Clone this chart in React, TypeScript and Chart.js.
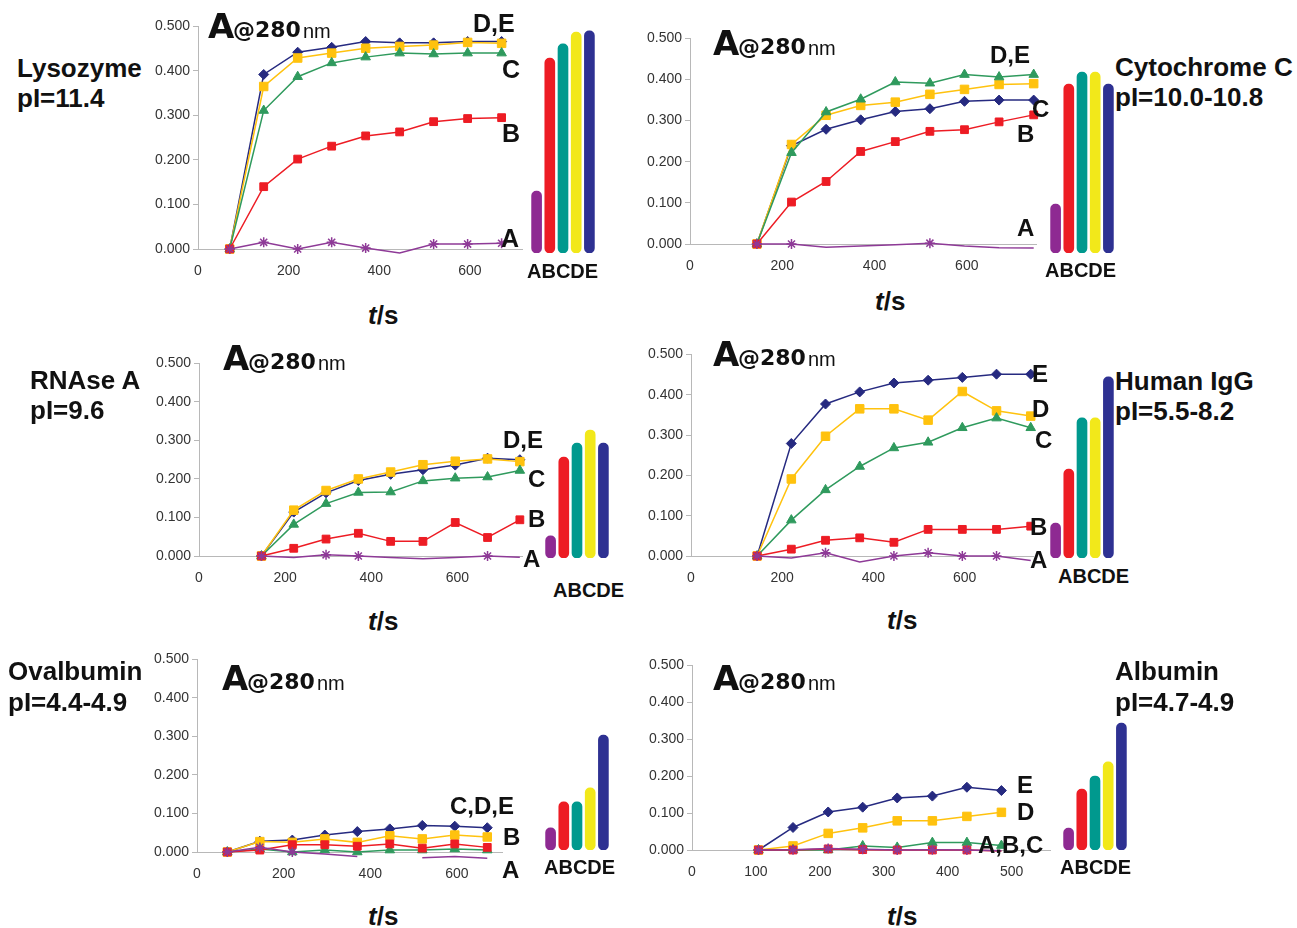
import React, { useEffect, useRef } from "react";
import { Chart, registerables } from "chart.js";

Chart.register(...registerables);

const FONT = "'Liberation Sans', Arial, Helvetica, sans-serif";
const FONT_WIDE = "'DejaVu Sans', Verdana, sans-serif";

// ---------- DATA ----------
// sampling times (s)
const timeEarly = [70, 145, 220, 295, 370, 445, 520, 595, 670];
const timeLate = [145, 220, 295, 370, 445, 520, 595, 670, 745];
const timeAlbumin = [104, 158, 213, 267, 321, 376, 430, 484];

// Lysozyme, pI = 11.4 (absorbance at 280 nm)
const lysoA = [0, 0.015, 0, 0.015, 0.002, -0.009, 0.011, 0.011, 0.013];
const lysoB = [0, 0.14, 0.202, 0.231, 0.254, 0.263, 0.286, 0.293, 0.295];
const lysoC = [0, 0.311, 0.387, 0.418, 0.431, 0.44, 0.438, 0.44, 0.44];
const lysoD = [0, 0.365, 0.429, 0.44, 0.451, 0.455, 0.458, 0.464, 0.462];
const lysoE = [0, 0.392, 0.442, 0.453, 0.466, 0.463, 0.463, 0.466, 0.466];
const lysoBars = [0.138, 0.435, 0.467, 0.493, 0.496];

// Cytochrome C, pI = 10.0-10.8
const cytoA = [0, 0, -0.008, -0.005, -0.002, 0.002, -0.005, -0.009, -0.01];
const cytoB = [0, 0.102, 0.152, 0.225, 0.249, 0.274, 0.278, 0.297, 0.314];
const cytoC = [0, 0.222, 0.321, 0.352, 0.394, 0.391, 0.412, 0.406, 0.412];
const cytoD = [0, 0.242, 0.313, 0.337, 0.345, 0.364, 0.376, 0.388, 0.39];
const cytoE = [0, 0.239, 0.279, 0.302, 0.322, 0.329, 0.347, 0.35, 0.35];
const cytoBars = [0.118, 0.408, 0.437, 0.437, 0.408];

// RNAse A, pI = 9.6
const rnaseA = [0, -0.004, 0.003, 0, -0.004, -0.007, -0.004, 0, -0.003];
const rnaseB = [0, 0.02, 0.044, 0.059, 0.038, 0.038, 0.087, 0.048, 0.094];
const rnaseC = [0, 0.082, 0.136, 0.165, 0.166, 0.195, 0.202, 0.205, 0.222];
const rnaseD = [0, 0.119, 0.17, 0.2, 0.218, 0.237, 0.246, 0.252, 0.245];
const rnaseE = [0, 0.114, 0.164, 0.196, 0.212, 0.224, 0.236, 0.254, 0.25];
const rnaseBars = [0.057, 0.26, 0.296, 0.33, 0.296];

// Human IgG, pI = 5.5-8.2
const iggA = [0, -0.005, 0.008, -0.015, 0, 0.008, 0, 0, -0.011];
const iggB = [0, 0.017, 0.039, 0.045, 0.034, 0.066, 0.066, 0.066, 0.074];
const iggC = [0, 0.089, 0.164, 0.222, 0.268, 0.282, 0.318, 0.342, 0.318];
const iggD = [0, 0.191, 0.297, 0.365, 0.365, 0.337, 0.408, 0.36, 0.347];
const iggE = [0, 0.279, 0.377, 0.407, 0.429, 0.436, 0.443, 0.451, 0.451];
const iggBars = [0.086, 0.219, 0.345, 0.345, 0.446];

// Ovalbumin, pI = 4.4-4.9
const ovalA = [0, 0.012, 0, -0.005, -0.012, null, -0.015, -0.012, -0.016];
const ovalB = [0, 0.005, 0.019, 0.019, 0.015, 0.021, 0.01, 0.021, 0.012];
const ovalC = [0, 0.008, 0, 0.005, 0, 0.005, 0.005, 0.008, 0.005];
const ovalD = [0, 0.027, 0.025, 0.034, 0.025, 0.042, 0.034, 0.044, 0.039];
const ovalE = [0, 0.028, 0.031, 0.044, 0.053, 0.06, 0.069, 0.067, 0.063];
const ovalBars = [0.057, 0.124, 0.124, 0.16, 0.296];

// Albumin, pI = 4.7-4.9
const albA = [0, 0.001, 0.004, 0.002, 0, 0.001, 0, -0.002];
const albB = [0, 0, 0.003, 0.001, 0, 0, 0, -0.003];
const albC = [0, 0, 0, 0.011, 0.007, 0.02, 0.02, 0.012];
const albD = [0, 0.011, 0.045, 0.06, 0.079, 0.079, 0.091, 0.102];
const albE = [0, 0.061, 0.103, 0.116, 0.141, 0.146, 0.17, 0.161];
const albBars = [0.059, 0.164, 0.199, 0.237, 0.341];

const seriesNames = ["A", "B", "C", "D", "E"];
const yTicks = { min: 0, max: 0.5, step: 0.1 };

// ---------- STYLES ----------
const SERIES_STYLE = [
  { color: "#8e3a97", point: "star", r: 5, bw: 1.5 },
  { color: "#ed1c24", point: "rect", r: 5.5, bw: 1 },
  { color: "#2f9a5d", point: "triangle", r: 5.5, bw: 1 },
  { color: "#ffc20e", point: "rect", r: 6, bw: 1 },
  { color: "#262a80", point: "rectRot", r: 5, bw: 1 },
];
const BAR_COLORS = ["#8e2a92", "#ed1c24", "#00998e", "#f2e81a", "#2e3192"];

const YW = 55;
const XH = 40;
const PADT = 10;
const PADR = 12;

type Geom = { left: number; top: number; w: number; h: number; xMax: number; xStep: number };

function LinePanel({ times, series, g }: { times: number[]; series: (number | null)[][]; g: Geom }) {
  const ref = useRef<HTMLCanvasElement>(null);
  useEffect(() => {
    const chart = new Chart(ref.current as HTMLCanvasElement, {
      type: "line",
      data: {
        datasets: series.map((vals, i) => ({
          label: seriesNames[i],
          data: times.map((t, k) => ({ x: t, y: vals[k] })),
          borderColor: SERIES_STYLE[i].color,
          backgroundColor: SERIES_STYLE[i].color,
          borderWidth: 1.5,
          pointStyle: SERIES_STYLE[i].point as any,
          pointRadius: (c: any) => (c.raw && c.raw.y !== null && c.raw.y < 0 ? 0 : SERIES_STYLE[i].r),
          pointBorderColor: SERIES_STYLE[i].color,
          pointBackgroundColor: SERIES_STYLE[i].color,
          pointBorderWidth: SERIES_STYLE[i].bw,
          tension: 0,
          clip: false as any,
          spanGaps: false,
        })),
      },
      options: {
        animation: false,
        responsive: false,
        events: [],
        layout: { padding: { top: PADT, right: PADR, left: 0, bottom: 0 } },
        plugins: { legend: { display: false }, tooltip: { enabled: false } },
        scales: {
          x: {
            type: "linear",
            min: 0,
            max: g.xMax,
            ticks: {
              stepSize: g.xStep,
              includeBounds: false,
              padding: 14,
              color: "#333",
              maxRotation: 0,
              autoSkip: false,
              font: { family: FONT, size: 14 },
            },
            grid: { display: false, drawTicks: false },
            border: { display: true, color: "#b8b8b8", width: 1 },
            afterFit: (s: any) => {
              s.height = XH;
            },
          },
          y: {
            min: yTicks.min,
            max: yTicks.max,
            ticks: {
              stepSize: yTicks.step,
              padding: 3,
              color: "#333",
              font: { family: FONT, size: 14 },
              callback: (v: any) => Number(v).toFixed(3),
            },
            grid: { display: true, drawOnChartArea: false, tickLength: 5, color: "#b8b8b8" },
            border: { display: true, color: "#b8b8b8", width: 1 },
            afterFit: (s: any) => {
              s.width = YW;
            },
          },
        },
      },
    } as any);
    return () => chart.destroy();
  }, []);
  const cw = Math.round(g.w) + YW + PADR;
  const ch = g.h + PADT + XH;
  return (
    <canvas
      ref={ref}
      width={cw}
      height={ch}
      style={{ position: "absolute", left: g.left - YW, top: g.top - PADT, width: cw, height: ch }}
    />
  );
}

const PITCH = 13.2;
function BarPanel({ values, firstCenter, bottom, h }: { values: number[]; firstCenter: number; bottom: number; h: number }) {
  const ref = useRef<HTMLCanvasElement>(null);
  useEffect(() => {
    const chart = new Chart(ref.current as HTMLCanvasElement, {
      type: "bar",
      data: {
        labels: seriesNames,
        datasets: [
          {
            data: values,
            backgroundColor: BAR_COLORS,
            barThickness: 10,
            borderRadius: 5,
            borderSkipped: false,
          },
        ],
      },
      options: {
        animation: false,
        responsive: false,
        events: [],
        layout: { padding: 0 },
        plugins: { legend: { display: false }, tooltip: { enabled: false } },
        scales: {
          x: { display: false },
          y: { display: false, min: 0, max: 0.5 },
        },
      },
    } as any);
    return () => chart.destroy();
  }, []);
  const w = Math.round(PITCH * 5);
  return (
    <canvas
      ref={ref}
      width={w}
      height={h}
      style={{ position: "absolute", left: Math.round(firstCenter - PITCH / 2), top: bottom - h, width: w, height: h }}
    />
  );
}

function Txt({
  x,
  y,
  size,
  children,
  weight = 700,
  family = FONT,
  color = "#111",
}: {
  x: number;
  y: number;
  size: number;
  children: any;
  weight?: number;
  family?: string;
  color?: string;
}) {
  return (
    <div
      style={{
        position: "absolute",
        left: x,
        top: y - 0.846 * size,
        fontSize: size,
        lineHeight: `${size}px`,
        fontFamily: family,
        fontWeight: weight,
        color,
        whiteSpace: "nowrap",
      }}
    >
      {children}
    </div>
  );
}

function A280({ x, y }: { x: number; y: number }) {
  return (
    <>
      <Txt x={x} y={y} size={34} family={FONT_WIDE}>
        A
      </Txt>
      <Txt x={x + 25} y={y} size={22} family={FONT_WIDE}>
        @280
      </Txt>
      <Txt x={x + 95} y={y} size={20} weight={400}>
        nm
      </Txt>
    </>
  );
}

function TS({ x, y }: { x: number; y: number }) {
  return (
    <Txt x={x} y={y} size={26}>
      <i>t</i>/s
    </Txt>
  );
}

export default function App() {
  return (
    <div
      style={{
        position: "fixed",
        left: 0,
        top: 0,
        width: 1297,
        height: 928,
        overflow: "hidden",
        background: "#fff",
      }}
    >
      {/* Lysozyme */}
      <LinePanel times={timeEarly} series={[lysoA, lysoB, lysoC, lysoD, lysoE]} g={{ left: 198, top: 25, w: 324, h: 224, xMax: 715, xStep: 200 }} />
      <BarPanel values={lysoBars} firstCenter={537} bottom={253} h={224} />
      {/* Cytochrome C */}
      <LinePanel times={timeLate} series={[cytoA, cytoB, cytoC, cytoD, cytoE]} g={{ left: 690, top: 37, w: 346, h: 207, xMax: 750, xStep: 200 }} />
      <BarPanel values={cytoBars} firstCenter={1056} bottom={253} h={207} />
      {/* RNAse A */}
      <LinePanel times={timeLate} series={[rnaseA, rnaseB, rnaseC, rnaseD, rnaseE]} g={{ left: 199, top: 362, w: 323, h: 194, xMax: 750, xStep: 200 }} />
      <BarPanel values={rnaseBars} firstCenter={551} bottom={558} h={194} />
      {/* Human IgG */}
      <LinePanel times={timeLate} series={[iggA, iggB, iggC, iggD, iggE]} g={{ left: 691, top: 353, w: 342, h: 203, xMax: 750, xStep: 200 }} />
      <BarPanel values={iggBars} firstCenter={1056} bottom={558} h={203} />
      {/* Ovalbumin */}
      <LinePanel times={timeEarly} series={[ovalA, ovalB, ovalC, ovalD, ovalE]} g={{ left: 197, top: 658, w: 305, h: 194, xMax: 704, xStep: 200 }} />
      <BarPanel values={ovalBars} firstCenter={551} bottom={850} h={194} />
      {/* Albumin */}
      <LinePanel times={timeAlbumin} series={[albA, albB, albC, albD, albE]} g={{ left: 692, top: 664, w: 358, h: 186, xMax: 560, xStep: 100 }} />
      <BarPanel values={albBars} firstCenter={1069} bottom={850} h={186} />

      {/* A@280nm titles */}
      <A280 x={208} y={38} />
      <A280 x={713} y={55} />
      <A280 x={223} y={370} />
      <A280 x={713} y={366} />
      <A280 x={222} y={690} />
      <A280 x={713} y={690} />

      {/* protein names */}
      <Txt x={17} y={77} size={26}>Lysozyme</Txt>
      <Txt x={17} y={107} size={26}>pI=11.4</Txt>
      <Txt x={1115} y={76} size={26}>Cytochrome C</Txt>
      <Txt x={1115} y={106} size={26}>pI=10.0-10.8</Txt>
      <Txt x={30} y={389} size={26}>RNAse A</Txt>
      <Txt x={30} y={419} size={26}>pI=9.6</Txt>
      <Txt x={1115} y={390} size={26}>Human IgG</Txt>
      <Txt x={1115} y={420} size={26}>pI=5.5-8.2</Txt>
      <Txt x={8} y={680} size={26}>Ovalbumin</Txt>
      <Txt x={8} y={711} size={26}>pI=4.4-4.9</Txt>
      <Txt x={1115} y={680} size={26}>Albumin</Txt>
      <Txt x={1115} y={711} size={26}>pI=4.7-4.9</Txt>

      {/* series labels */}
      <Txt x={473} y={32} size={25}>D,E</Txt>
      <Txt x={502} y={78} size={25}>C</Txt>
      <Txt x={502} y={142} size={25}>B</Txt>
      <Txt x={501} y={247} size={25}>A</Txt>

      <Txt x={990} y={63} size={24}>D,E</Txt>
      <Txt x={1032} y={117} size={24}>C</Txt>
      <Txt x={1017} y={142} size={24}>B</Txt>
      <Txt x={1017} y={236} size={24}>A</Txt>

      <Txt x={503} y={448} size={24}>D,E</Txt>
      <Txt x={528} y={487} size={24}>C</Txt>
      <Txt x={528} y={527} size={24}>B</Txt>
      <Txt x={523} y={567} size={24}>A</Txt>

      <Txt x={1032} y={382} size={24}>E</Txt>
      <Txt x={1032} y={417} size={24}>D</Txt>
      <Txt x={1035} y={448} size={24}>C</Txt>
      <Txt x={1030} y={535} size={24}>B</Txt>
      <Txt x={1030} y={568} size={24}>A</Txt>

      <Txt x={450} y={814} size={24}>C,D,E</Txt>
      <Txt x={503} y={845} size={24}>B</Txt>
      <Txt x={502} y={878} size={24}>A</Txt>

      <Txt x={1017} y={793} size={24}>E</Txt>
      <Txt x={1017} y={820} size={24}>D</Txt>
      <Txt x={978} y={853} size={24}>A,B,C</Txt>

      {/* bar captions */}
      <Txt x={527} y={278} size={20}>ABCDE</Txt>
      <Txt x={1045} y={277} size={20}>ABCDE</Txt>
      <Txt x={553} y={597} size={20}>ABCDE</Txt>
      <Txt x={1058} y={583} size={20}>ABCDE</Txt>
      <Txt x={544} y={874} size={20}>ABCDE</Txt>
      <Txt x={1060} y={874} size={20}>ABCDE</Txt>

      {/* axis titles */}
      <TS x={368} y={324} />
      <TS x={875} y={310} />
      <TS x={368} y={630} />
      <TS x={887} y={629} />
      <TS x={368} y={925} />
      <TS x={887} y={925} />
    </div>
  );
}
